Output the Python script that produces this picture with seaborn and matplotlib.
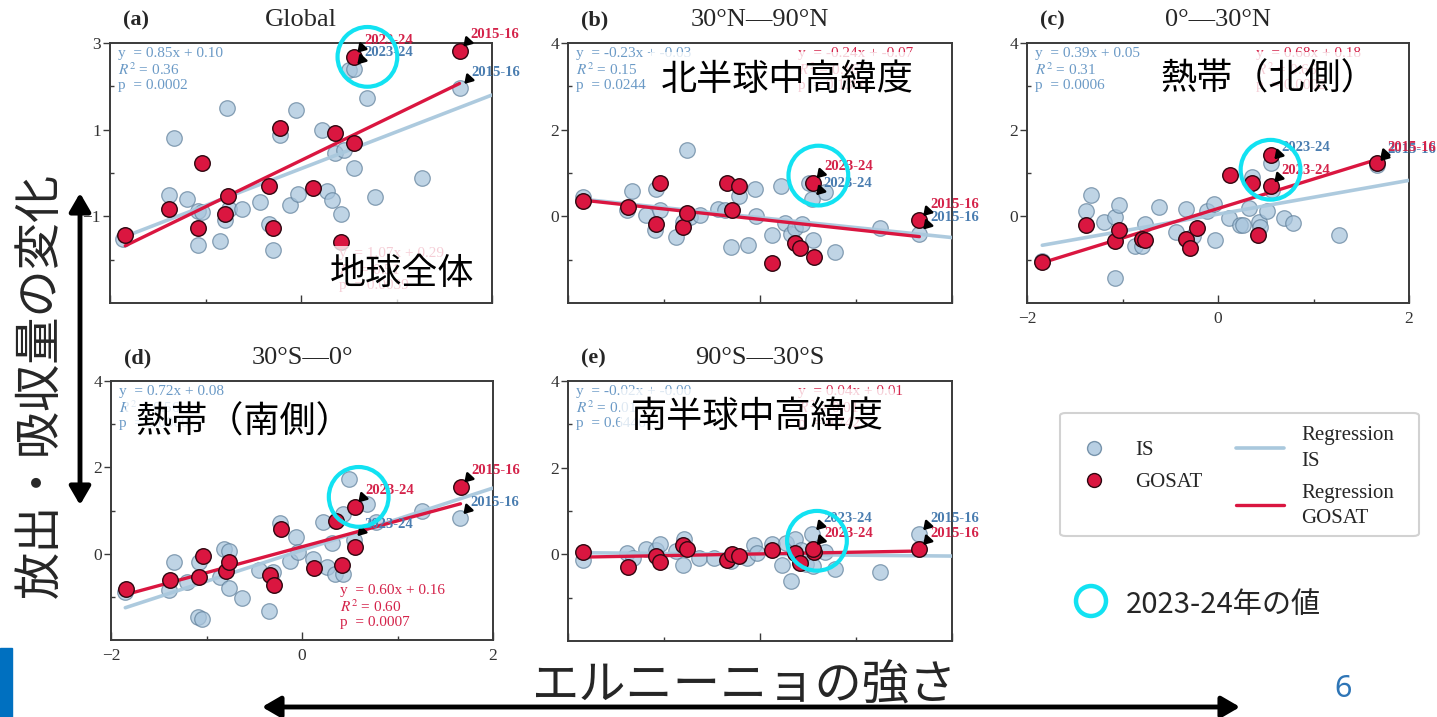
import numpy as np
import pandas as pd
import matplotlib
matplotlib.use("Agg")
import matplotlib.pyplot as plt
import matplotlib.transforms as mtransforms
import seaborn as sns
from matplotlib.patches import FancyArrowPatch, Rectangle, Ellipse, FancyBboxPatch
from matplotlib.lines import Line2D
from matplotlib.ticker import FixedLocator

sns.set_style("ticks")
plt.rcParams["font.family"] = ["Liberation Serif", "Noto Sans CJK JP", "DejaVu Sans"]
plt.rcParams["mathtext.fontset"] = "stix"
JP = ["Noto Sans CJK JP", "DejaVu Sans"]

# ---------------------------------------------------------------- data
panel_letters = ["(a)", "(b)", "(c)", "(d)", "(e)"]
panel_titles = ["Global", "30°N—90°N", "0°—30°N", "30°S—0°", "90°S—30°S"]
panel_names_jp = ["地球全体", "北半球中高緯度", "熱帯（北側）", "熱帯（南側）", "南半球中高緯度"]
labelled_years = ["2023-24", "2015-16"]   # last two entries of every series

# ENSO strength of the GOSAT years (shared by all regions)
gosat_enso = [-1.84, -1.38, -1.08, -1.04, -0.80, -0.76, -0.34, -0.29, -0.22,
              0.13, 0.36, 0.42, 0.56, 0.55, 1.66]
gosat_glob = [-1.42, -0.83, -1.28, 0.24, -0.94, -0.52, -0.29, -1.28, 1.03,
              -0.34, 0.93, -1.59, 0.70, 2.68, 2.82]
gosat_nh = [0.35, 0.21, -0.17, 0.77, -0.25, 0.08, 0.77, 0.14, 0.70,
            -1.07, -0.62, -0.72, -0.95, 0.78, -0.09]
gosat_ntr = [-1.05, -0.19, -0.58, -0.32, -0.53, -0.55, -0.52, -0.73, -0.27,
             0.96, 0.77, -0.42, 1.41, 0.69, 1.23]
gosat_str = [-0.81, -0.60, -0.53, -0.05, -0.39, -0.19, -0.49, -0.72, 0.57,
             -0.34, 0.76, -0.26, 0.16, 1.09, 1.55]
gosat_sh = [0.05, -0.29, -0.04, -0.18, 0.22, 0.12, -0.12, 0.00, -0.04,
            0.09, 0.02, -0.19, 0.06, 0.12, 0.12]

# inversion-system ensemble (IS)
is_x_glob = [-1.86, -1.33, -1.38, -1.19, -1.08, -1.04, -1.08, -0.85, -0.80, -0.77,
             -0.755, -0.62, -0.43, -0.34, -0.29, -0.22, -0.12, -0.05, -0.03, 0.22,
             0.27, 0.32, 0.36, 0.42, 0.45, 0.56, 0.50, 0.69, 0.78, 1.27, 0.55, 1.67]
is_y_glob = [-1.52, 0.81, -0.50, -0.61, -0.88, -0.90, -1.67, -1.57, -1.09, 1.50,
             -0.82, -0.82, -0.67, -1.17, -1.77, 0.88, -0.75, 1.46, -0.48, 1.00,
             -0.42, -0.62, 0.45, -0.94, 0.52, 0.12, 2.37, 1.74, -0.55, -0.11, 2.41, 1.96]
is_x_nh = [-1.84, -1.385, -1.33, -1.19, -1.08, -1.09, -1.04, -0.88, -0.80, -0.76,
           -0.73, -0.62, -0.44, -0.36, -0.30, -0.22, -0.125, -0.056, -0.04, 0.12,
           0.22, 0.26, 0.32, 0.36, 0.44, 0.55, 0.51, 0.68, 0.78, 1.25, 0.545, 1.66]
is_y_nh = [0.45, 0.14, 0.58, 0.04, 0.64, -0.32, 0.14, -0.48, -0.13, 1.52,
           -0.02, 0.02, 0.16, 0.14, -0.71, 0.47, -0.67, 0.62, 0.01, -0.42,
           0.70, -0.15, -0.40, -0.28, -0.18, -0.55, 0.77, 0.56, -0.82, -0.28, 0.39, -0.40]
is_x_ntr = [-1.84, -1.38, -1.33, -1.19, -1.08, -1.04, -1.08, -0.87, -0.80, -0.76,
            -0.62, -0.44, -0.34, -0.26, -0.115, -0.04, -0.03, 0.12, 0.23, 0.26,
            0.32, 0.36, 0.43, 0.44, 0.51, 0.57, 0.69, 0.79, 1.27, 0.55, 1.66]
is_y_ntr = [-1.02, 0.12, 0.50, -0.12, -0.02, 0.27, -1.42, -0.69, -0.69, -0.18,
            0.22, -0.37, 0.16, -0.45, 0.12, 0.29, -0.54, -0.04, -0.21, -0.21,
            0.20, 0.91, -0.13, -0.25, 0.12, 0.60, -0.04, -0.15, -0.42, 1.22, 1.18]
is_x_str = [-1.85, -1.39, -1.34, -1.20, -1.08, -1.09, -1.05, -0.86, -0.82, -0.76,
            -0.76, -0.63, -0.45, -0.30, -0.35, -0.23, -0.13, -0.06, -0.04, 0.12,
            0.22, 0.26, 0.31, 0.35, 0.43, 0.43, 0.49, 0.68, 0.78, 1.26, 0.54, 1.65]
is_y_str = [-0.88, -0.84, -0.19, -0.65, -0.19, -1.46, -1.52, -0.53, 0.11, 0.07,
            -0.80, -1.03, -0.38, -0.43, -1.32, 0.72, -0.16, 0.39, 0.03, -0.13,
            0.74, -0.32, 0.24, -0.48, -0.48, 0.93, 1.74, 1.15, 0.74, 1.00, 0.31, 0.82]
is_x_sh = [-1.84, -1.39, -1.32, -1.19, -1.08, -1.04, -0.87, -0.80, -0.79, -0.64,
           -0.48, -0.30, -0.14, -0.06, -0.03, 0.13, 0.23, 0.27, 0.32, 0.36,
           0.43, 0.48, 0.55, 0.68, 0.78, 1.25, 0.545, 1.66]
is_y_sh = [-0.12, 0.03, -0.08, 0.12, 0.09, 0.23, 0.08, -0.25, 0.35, -0.08,
           -0.08, -0.15, -0.08, 0.21, 0.02, 0.23, -0.25, 0.27, -0.62, 0.35,
           0.09, -0.22, -0.27, 0.05, -0.33, -0.41, 0.46, 0.46]

# regression statistics
is_slope = [0.85, -0.23, 0.39, 0.72, -0.02]
is_icpt = [0.10, -0.03, 0.05, 0.08, -0.00]
is_r2 = ["0.36", "0.15", "0.31", "0.56", "0.01"]
is_p = ["0.0002", "0.0244", "0.0006", "0.0000", "0.6446"]
gosat_slope = [1.07, -0.24, 0.68, 0.60, 0.04]
gosat_icpt = [0.29, -0.07, 0.18, 0.16, 0.01]
gosat_r2 = ["0.51", "0.16", "0.66", "0.60", "0.01"]
gosat_p = ["0.0039", "0.1386", "0.0002", "0.0007", "0.7425"]

gosat_series = [gosat_glob, gosat_nh, gosat_ntr, gosat_str, gosat_sh]
is_xs = [is_x_glob, is_x_nh, is_x_ntr, is_x_str, is_x_sh]
is_ys = [is_y_glob, is_y_nh, is_y_ntr, is_y_str, is_y_sh]

# ---------------------------------------------------------------- style
W, H = 1437, 717
IS_FILL, IS_EDGE, IS_LINE = "#A7C4DC", "#5F7F9A", "#A9C8DD"
IS_TXT, IS_LAB = "#5B8FC0", "#4A7DB0"
RED, RED_EDGE, RED_TXT = "#DA1640", "#2E0710", "#D4234A"
CYAN = "#12E2F2"
SPINE = "#3A3A3A"


def px_rect(left, top, right, bottom):
    return [left / W, 1 - bottom / H, (right - left) / W, (bottom - top) / H]


rects = [px_rect(110, 43, 492, 303), px_rect(568, 43, 952, 303),
         px_rect(1027, 43, 1409, 303), px_rect(111, 381, 493, 640),
         px_rect(568, 381, 952, 641)]
ylims = [(-3, 3), (-2, 4), (-2, 4), (-2, 4), (-2, 4)]
ymajor = [[-1, 1, 3], [0, 2, 4], [0, 2, 4], [0, 2, 4], [0, 2, 4]]
yminor = [[-2, 0, 2], [-1, 1, 3], [-1, 1, 3], [-1, 1, 3], [-1, 1, 3]]
show_xlabels = [False, False, True, True, False]
gosat_stats_top = [False, True, True, False, True]
highlight_shift = [(10, 0), (4, 5), (0, 12), (3, 7), (3, 6)]   # points

fig = plt.figure(figsize=(W / 100, H / 100), dpi=100)

for k in range(5):
    ax = fig.add_axes(rects[k])
    gx = np.array(gosat_enso)
    gy = np.array(gosat_series[k])
    ix = np.array(is_xs[k])
    iy = np.array(is_ys[k])

    sns.scatterplot(x=ix, y=iy, ax=ax, s=125, color=IS_FILL, edgecolor=IS_EDGE,
                    linewidth=0.9, alpha=0.72, zorder=2, legend=False)
    line_is = np.array([ix.min(), 2.0])
    sns.lineplot(x=line_is, y=is_slope[k] * line_is + is_icpt[k], ax=ax,
                 color=IS_LINE, lw=2.6, alpha=0.95, zorder=3)
    line_g = np.array([gx.min(), gx.max()])
    sns.lineplot(x=line_g, y=gosat_slope[k] * line_g + gosat_icpt[k], ax=ax,
                 color=RED, lw=2.4, zorder=4)
    sns.scatterplot(x=gx, y=gy, ax=ax, s=125, color=RED, edgecolor=RED_EDGE,
                    linewidth=1.0, zorder=5, legend=False)

    ax.set_xlim(-2, 2)
    ax.set_ylim(*ylims[k])
    ax.set_xlabel("")
    ax.set_ylabel("")
    ax.xaxis.set_major_locator(FixedLocator([-2, 0, 2]))
    ax.xaxis.set_minor_locator(FixedLocator([-1, 1]))
    ax.yaxis.set_major_locator(FixedLocator(ymajor[k]))
    ax.yaxis.set_minor_locator(FixedLocator(yminor[k]))
    ax.tick_params(axis="y", which="major", direction="out", length=5, width=1,
                   labelsize=12.5, pad=1.5, color=SPINE, labelcolor="#333333")
    ax.tick_params(axis="y", which="minor", direction="in", length=3, width=1, color=SPINE)
    ax.tick_params(axis="x", which="major", direction="in", length=6, width=1,
                   labelsize=12.5, pad=6, color=SPINE, labelcolor="#333333",
                   labelbottom=show_xlabels[k])
    ax.tick_params(axis="x", which="minor", direction="in", length=3, width=1, color=SPINE)
    for sp in ax.spines.values():
        sp.set_color(SPINE)
        sp.set_linewidth(1.4)

    ax.text(0.5, 1.088, panel_titles[k], transform=ax.transAxes, ha="center",
            va="center", fontsize=19)
    ax.text(0.034, 1.088, panel_letters[k], transform=ax.transAxes, ha="left",
            va="center", fontsize=16, fontweight="bold")

    is_txt = (f"y  = {is_slope[k]:.2f}x + {is_icpt[k]:.2f}\n"
              f"$R^2$ = {is_r2[k]}\np  = {is_p[k]}")
    ax.text(0.02, 0.985, is_txt, transform=ax.transAxes, ha="left", va="top",
            fontsize=11, color=IS_TXT, alpha=0.9, linespacing=1.1, zorder=6)
    g_txt = (f"y  = {gosat_slope[k]:.2f}x + {gosat_icpt[k]:.2f}\n"
             f"$R^2$ = {gosat_r2[k]}\np  = {gosat_p[k]}")
    gy_pos = 0.985 if gosat_stats_top[k] else 0.215
    ax.text(0.60, gy_pos, g_txt, transform=ax.transAxes, ha="left", va="top",
            fontsize=11, color=RED_TXT, linespacing=1.1, zorder=6)

    # year labels with arrows
    for j, year in zip([-2, -1], labelled_years):
        for px_, py_, col in [(ix[j], iy[j], IS_LAB), (gx[j], gy[j], RED_TXT)]:
            ax.annotate(year, xy=(px_, py_), xytext=(8, 11.5), textcoords="offset points",
                        ha="left", va="center", fontsize=10.5, fontweight="bold",
                        color=col, zorder=7, annotation_clip=False,
                        arrowprops=dict(arrowstyle="-|>,head_length=0.45,head_width=0.28",
                                        color="black", lw=1.8, shrinkA=0, shrinkB=4,
                                        relpos=(0.0, 0.2)))

    # highlight ring around the 2023-24 values
    dx, dy = highlight_shift[k]
    shift = mtransforms.ScaledTranslation(dx / 72, dy / 72, fig.dpi_scale_trans)
    ax.scatter([gx[-2]], [gy[-2]], s=1850, facecolors="none", edgecolors=CYAN,
               linewidths=3.0, transform=ax.transData + shift, zorder=8, clip_on=False)

# region names on translucent white boxes
jp_pos = [(402, 274), (787, 80), (1269, 80), (244, 423), (757, 417)]
for name, (cx, cy) in zip(panel_names_jp, jp_pos):
    fig.text(cx / W, 1 - cy / H, name, ha="center", va="center", fontsize=26,
             family=JP, color="black", zorder=10,
             bbox=dict(boxstyle="square,pad=0.28", facecolor="white",
                       edgecolor="none", alpha=0.78))

# axis meaning labels and arrows
fig.text(40 / W, 1 - 385 / H, "放出・吸収量の変化", rotation=90, ha="center",
         va="center", fontsize=34, family=JP)
fig.text(745 / W, 1 - 686 / H, "エルニーニョの強さ", ha="center", va="center",
         fontsize=34, family=JP)
arrow_style = "<|-|>,head_length=0.55,head_width=0.32"
fig.add_artist(FancyArrowPatch((80 / W, 1 - 505 / H), (80 / W, 1 - 193 / H),
                               arrowstyle=arrow_style, mutation_scale=20, lw=3.5,
                               color="black", shrinkA=0, shrinkB=0,
                               transform=fig.transFigure))
fig.add_artist(FancyArrowPatch((262 / W, 1 - 707 / H), (1240 / W, 1 - 707 / H),
                               arrowstyle=arrow_style, mutation_scale=20, lw=3.5,
                               color="black", shrinkA=0, shrinkB=0,
                               transform=fig.transFigure))

# legend
fig.add_artist(FancyBboxPatch((1060 / W, 1 - 536 / H), 359 / W, 123 / H,
                              boxstyle="round,pad=0,rounding_size=0.004",
                              transform=fig.transFigure, facecolor="white",
                              edgecolor="#D2D2D2", lw=1.5, zorder=1))
pt_handles = [Line2D([], [], marker="o", ls="", ms=10, mfc=IS_FILL, mec=IS_EDGE, alpha=0.8),
              Line2D([], [], marker="o", ls="", ms=10, mfc=RED, mec=RED_EDGE)]
ln_handles = [Line2D([], [], color=IS_LINE, lw=2.6), Line2D([], [], color=RED, lw=2.4)]
leg1 = fig.legend(pt_handles, ["IS", "GOSAT"], loc="upper left",
                  bbox_to_anchor=(1060 / W, 1 - 430 / H), frameon=False, fontsize=15,
                  handlelength=2.3, handletextpad=0.8, labelspacing=0.6, borderpad=0)
leg2 = fig.legend(ln_handles, ["Regression\nIS", "Regression\nGOSAT"], loc="upper left",
                  bbox_to_anchor=(1226 / W, 1 - 416 / H), frameon=False, fontsize=15,
                  handlelength=2.3, handletextpad=0.8, labelspacing=0.62, borderpad=0)
for t in leg2.get_texts():
    t.set_linespacing(1.45)

fig.add_artist(Ellipse((1091 / W, 1 - 601 / H), 30 / W, 30 / H, fill=False,
                       edgecolor=CYAN, lw=3.2, transform=fig.transFigure))
fig.text(1126 / W, 1 - 605 / H, "2023-24年の値", ha="left", va="center",
         fontsize=21, family=JP)

fig.text(1343 / W, 1 - 689 / H, "6", ha="center", va="center", fontsize=22,
         family=["Noto Sans", "DejaVu Sans"], color="#2E75B6")
fig.add_artist(Rectangle((0, 0), 12 / W, 69 / H, transform=fig.transFigure,
                         color="#0070C0"))

fig.savefig("out.png", dpi=100)
